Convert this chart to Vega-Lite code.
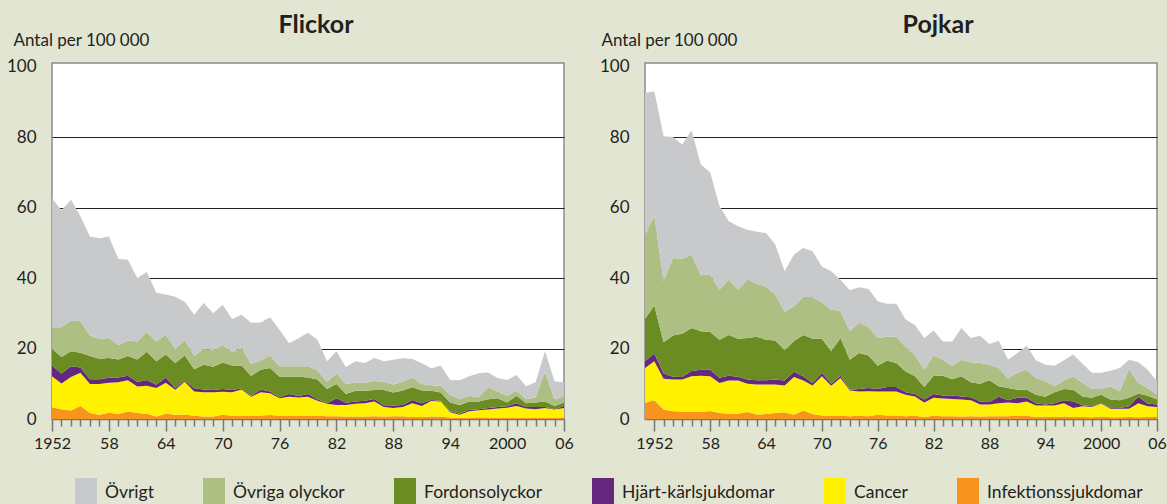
{
  "$schema": "https://vega.github.io/schema/vega-lite/v6.json",
  "padding": {"left": 5, "top": 12, "right": 0, "bottom": 0},
  "background": "#e1e5d2",
  "bounds": "flush",
  "spacing": 81,
  "datasets": {
    "flickor": [
      {"ar":1952,"Infektionssjukdomar":3.3,"Cancer":8.8,"Hjärt-kärlsjukdomar":3.1,"Fordonsolyckor":4.7,"Övriga olyckor":6.1,"Övrigt":36.6},
      {"ar":1953,"Infektionssjukdomar":2.8,"Cancer":7.3,"Hjärt-kärlsjukdomar":2.8,"Fordonsolyckor":4.7,"Övriga olyckor":8.4,"Övrigt":33.2},
      {"ar":1954,"Infektionssjukdomar":2.4,"Cancer":9.5,"Hjärt-kärlsjukdomar":3.1,"Fordonsolyckor":4.2,"Övriga olyckor":8.7,"Övrigt":34.3},
      {"ar":1955,"Infektionssjukdomar":3.7,"Cancer":9.4,"Hjärt-kärlsjukdomar":1.5,"Fordonsolyckor":4.2,"Övriga olyckor":8.9,"Övrigt":29.8},
      {"ar":1956,"Infektionssjukdomar":1.7,"Cancer":8.2,"Hjärt-kärlsjukdomar":1.4,"Fordonsolyckor":6.6,"Övriga olyckor":5.8,"Övrigt":28.1},
      {"ar":1957,"Infektionssjukdomar":1.2,"Cancer":8.7,"Hjärt-kärlsjukdomar":1.4,"Fordonsolyckor":5.8,"Övriga olyckor":5.6,"Övrigt":28.6},
      {"ar":1958,"Infektionssjukdomar":1.8,"Cancer":8.5,"Hjärt-kärlsjukdomar":1.4,"Fordonsolyckor":5.6,"Övriga olyckor":5.7,"Övrigt":28.8},
      {"ar":1959,"Infektionssjukdomar":1.4,"Cancer":9.0,"Hjärt-kärlsjukdomar":1.4,"Fordonsolyckor":5.1,"Övriga olyckor":4.0,"Övrigt":24.5},
      {"ar":1960,"Infektionssjukdomar":2.1,"Cancer":8.9,"Hjärt-kärlsjukdomar":1.3,"Fordonsolyckor":5.6,"Övriga olyckor":4.4,"Övrigt":22.9},
      {"ar":1961,"Infektionssjukdomar":1.7,"Cancer":7.5,"Hjärt-kärlsjukdomar":1.3,"Fordonsolyckor":6.4,"Övriga olyckor":5.1,"Övrigt":18.0},
      {"ar":1962,"Infektionssjukdomar":1.5,"Cancer":7.9,"Hjärt-kärlsjukdomar":1.7,"Fordonsolyckor":8.0,"Övriga olyckor":5.6,"Övrigt":17.0},
      {"ar":1963,"Infektionssjukdomar":0.7,"Cancer":8.1,"Hjärt-kärlsjukdomar":0.9,"Fordonsolyckor":6.7,"Övriga olyckor":5.6,"Övrigt":13.8},
      {"ar":1964,"Infektionssjukdomar":1.5,"Cancer":8.8,"Hjärt-kärlsjukdomar":1.5,"Fordonsolyckor":6.5,"Övriga olyckor":5.6,"Övrigt":11.4},
      {"ar":1965,"Infektionssjukdomar":1.2,"Cancer":7.1,"Hjärt-kärlsjukdomar":0.5,"Fordonsolyckor":7.1,"Övriga olyckor":4.0,"Övrigt":14.8},
      {"ar":1966,"Infektionssjukdomar":1.3,"Cancer":9.3,"Hjärt-kärlsjukdomar":0.3,"Fordonsolyckor":7.1,"Övriga olyckor":4.4,"Övrigt":10.9},
      {"ar":1967,"Infektionssjukdomar":0.9,"Cancer":6.9,"Hjärt-kärlsjukdomar":0.9,"Fordonsolyckor":5.4,"Övriga olyckor":3.8,"Övrigt":11.7},
      {"ar":1968,"Infektionssjukdomar":0.7,"Cancer":6.9,"Hjärt-kärlsjukdomar":0.8,"Fordonsolyckor":7.0,"Övriga olyckor":4.5,"Övrigt":13.0},
      {"ar":1969,"Infektionssjukdomar":0.7,"Cancer":6.9,"Hjärt-kärlsjukdomar":0.6,"Fordonsolyckor":6.6,"Övriga olyckor":4.7,"Övrigt":10.5},
      {"ar":1970,"Infektionssjukdomar":1.2,"Cancer":6.5,"Hjärt-kärlsjukdomar":0.8,"Fordonsolyckor":7.5,"Övriga olyckor":5.0,"Övrigt":11.4},
      {"ar":1971,"Infektionssjukdomar":0.9,"Cancer":6.7,"Hjärt-kärlsjukdomar":0.6,"Fordonsolyckor":7.0,"Övriga olyckor":3.8,"Övrigt":9.4},
      {"ar":1972,"Infektionssjukdomar":1.0,"Cancer":7.4,"Hjärt-kärlsjukdomar":0.3,"Fordonsolyckor":6.5,"Övriga olyckor":5.0,"Övrigt":9.4},
      {"ar":1973,"Infektionssjukdomar":0.9,"Cancer":5.4,"Hjärt-kärlsjukdomar":0.2,"Fordonsolyckor":5.7,"Övriga olyckor":3.5,"Övrigt":11.6},
      {"ar":1974,"Infektionssjukdomar":1.0,"Cancer":6.6,"Hjärt-kärlsjukdomar":0.8,"Fordonsolyckor":5.6,"Övriga olyckor":2.6,"Övrigt":10.8},
      {"ar":1975,"Infektionssjukdomar":1.1,"Cancer":6.2,"Hjärt-kärlsjukdomar":0.5,"Fordonsolyckor":6.7,"Övriga olyckor":3.5,"Övrigt":10.9},
      {"ar":1976,"Infektionssjukdomar":0.9,"Cancer":5.0,"Hjärt-kärlsjukdomar":0.3,"Fordonsolyckor":5.8,"Övriga olyckor":3.0,"Övrigt":10.3},
      {"ar":1977,"Infektionssjukdomar":0.9,"Cancer":5.4,"Hjärt-kärlsjukdomar":0.8,"Fordonsolyckor":4.9,"Övriga olyckor":3.0,"Övrigt":6.5},
      {"ar":1978,"Infektionssjukdomar":1.0,"Cancer":5.1,"Hjärt-kärlsjukdomar":0.4,"Fordonsolyckor":5.5,"Övriga olyckor":3.0,"Övrigt":7.9},
      {"ar":1979,"Infektionssjukdomar":0.9,"Cancer":5.4,"Hjärt-kärlsjukdomar":0.8,"Fordonsolyckor":4.7,"Övriga olyckor":3.2,"Övrigt":9.5},
      {"ar":1980,"Infektionssjukdomar":1.0,"Cancer":4.2,"Hjärt-kärlsjukdomar":0.4,"Fordonsolyckor":5.6,"Övriga olyckor":2.6,"Övrigt":8.7},
      {"ar":1981,"Infektionssjukdomar":0.8,"Cancer":3.5,"Hjärt-kärlsjukdomar":0.2,"Fordonsolyckor":4.0,"Övriga olyckor":2.1,"Övrigt":5.8},
      {"ar":1982,"Infektionssjukdomar":0.8,"Cancer":3.2,"Hjärt-kärlsjukdomar":1.9,"Fordonsolyckor":4.0,"Övriga olyckor":3.0,"Övrigt":6.3},
      {"ar":1983,"Infektionssjukdomar":0.7,"Cancer":3.3,"Hjärt-kärlsjukdomar":0.6,"Fordonsolyckor":2.5,"Övriga olyckor":2.8,"Övrigt":4.8},
      {"ar":1984,"Infektionssjukdomar":0.7,"Cancer":3.6,"Hjärt-kärlsjukdomar":0.7,"Fordonsolyckor":3.0,"Övriga olyckor":2.3,"Övrigt":6.1},
      {"ar":1985,"Infektionssjukdomar":0.7,"Cancer":3.8,"Hjärt-kärlsjukdomar":0.7,"Fordonsolyckor":2.8,"Övriga olyckor":2.3,"Övrigt":5.6},
      {"ar":1986,"Infektionssjukdomar":0.8,"Cancer":4.2,"Hjärt-kärlsjukdomar":0.7,"Fordonsolyckor":2.5,"Övriga olyckor":2.6,"Övrigt":6.5},
      {"ar":1987,"Infektionssjukdomar":0.7,"Cancer":2.7,"Hjärt-kärlsjukdomar":0.5,"Fordonsolyckor":4.3,"Övriga olyckor":2.4,"Övrigt":5.8},
      {"ar":1988,"Infektionssjukdomar":0.8,"Cancer":2.3,"Hjärt-kärlsjukdomar":0.7,"Fordonsolyckor":3.7,"Övriga olyckor":2.3,"Övrigt":7.0},
      {"ar":1989,"Infektionssjukdomar":0.8,"Cancer":2.6,"Hjärt-kärlsjukdomar":0.6,"Fordonsolyckor":4.1,"Övriga olyckor":2.5,"Övrigt":6.6},
      {"ar":1990,"Infektionssjukdomar":0.6,"Cancer":3.9,"Hjärt-kärlsjukdomar":0.9,"Fordonsolyckor":3.6,"Övriga olyckor":2.8,"Övrigt":5.2},
      {"ar":1991,"Infektionssjukdomar":0.6,"Cancer":3.1,"Hjärt-kärlsjukdomar":0.8,"Fordonsolyckor":3.6,"Övriga olyckor":1.8,"Övrigt":5.9},
      {"ar":1992,"Infektionssjukdomar":0.7,"Cancer":4.4,"Hjärt-kärlsjukdomar":0.3,"Fordonsolyckor":2.6,"Övriga olyckor":1.6,"Övrigt":4.8},
      {"ar":1993,"Infektionssjukdomar":0.7,"Cancer":4.3,"Hjärt-kärlsjukdomar":0.2,"Fordonsolyckor":2.3,"Övriga olyckor":1.9,"Övrigt":5.7},
      {"ar":1994,"Infektionssjukdomar":0.4,"Cancer":1.5,"Hjärt-kärlsjukdomar":0.3,"Fordonsolyckor":2.5,"Övriga olyckor":2.1,"Övrigt":4.3},
      {"ar":1995,"Infektionssjukdomar":0.3,"Cancer":0.9,"Hjärt-kärlsjukdomar":0.3,"Fordonsolyckor":2.5,"Övriga olyckor":1.6,"Övrigt":5.4},
      {"ar":1996,"Infektionssjukdomar":0.4,"Cancer":1.8,"Hjärt-kärlsjukdomar":0.4,"Fordonsolyckor":2.4,"Övriga olyckor":1.6,"Övrigt":5.5},
      {"ar":1997,"Infektionssjukdomar":0.5,"Cancer":2.0,"Hjärt-kärlsjukdomar":0.3,"Fordonsolyckor":2.2,"Övriga olyckor":1.2,"Övrigt":6.8},
      {"ar":1998,"Infektionssjukdomar":0.4,"Cancer":2.3,"Hjärt-kärlsjukdomar":0.4,"Fordonsolyckor":2.5,"Övriga olyckor":3.4,"Övrigt":4.2},
      {"ar":1999,"Infektionssjukdomar":0.4,"Cancer":2.6,"Hjärt-kärlsjukdomar":0.4,"Fordonsolyckor":2.5,"Övriga olyckor":1.9,"Övrigt":3.8},
      {"ar":2000,"Infektionssjukdomar":0.4,"Cancer":2.8,"Hjärt-kärlsjukdomar":0.4,"Fordonsolyckor":1.1,"Övriga olyckor":1.9,"Övrigt":4.5},
      {"ar":2001,"Infektionssjukdomar":0.4,"Cancer":3.3,"Hjärt-kärlsjukdomar":0.8,"Fordonsolyckor":2.1,"Övriga olyckor":1.5,"Övrigt":4.4},
      {"ar":2002,"Infektionssjukdomar":0.4,"Cancer":2.6,"Hjärt-kärlsjukdomar":0.4,"Fordonsolyckor":1.1,"Övriga olyckor":1.1,"Övrigt":3.7},
      {"ar":2003,"Infektionssjukdomar":0.4,"Cancer":2.4,"Hjärt-kärlsjukdomar":0.6,"Fordonsolyckor":1.3,"Övriga olyckor":1.5,"Övrigt":4.2},
      {"ar":2004,"Infektionssjukdomar":0.4,"Cancer":2.7,"Hjärt-kärlsjukdomar":0.3,"Fordonsolyckor":1.6,"Övriga olyckor":8.4,"Övrigt":5.8},
      {"ar":2005,"Infektionssjukdomar":0.4,"Cancer":2.3,"Hjärt-kärlsjukdomar":0.1,"Fordonsolyckor":0.9,"Övriga olyckor":1.9,"Övrigt":5.1},
      {"ar":2006,"Infektionssjukdomar":0.4,"Cancer":2.7,"Hjärt-kärlsjukdomar":0.6,"Fordonsolyckor":1.0,"Övriga olyckor":1.7,"Övrigt":4.0}
    ],
    "pojkar": [
      {"ar":1951,"Infektionssjukdomar":4.6,"Cancer":9.9,"Hjärt-kärlsjukdomar":1.9,"Fordonsolyckor":12.0,"Övriga olyckor":23.9,"Övrigt":40.2},
      {"ar":1952,"Infektionssjukdomar":5.3,"Cancer":11.1,"Hjärt-kärlsjukdomar":2.2,"Fordonsolyckor":13.6,"Övriga olyckor":25.5,"Övrigt":35.3},
      {"ar":1953,"Infektionssjukdomar":2.7,"Cancer":8.7,"Hjärt-kärlsjukdomar":1.5,"Fordonsolyckor":8.9,"Övriga olyckor":17.3,"Övrigt":41.1},
      {"ar":1954,"Infektionssjukdomar":2.2,"Cancer":9.0,"Hjärt-kärlsjukdomar":0.8,"Fordonsolyckor":11.7,"Övriga olyckor":22.0,"Övrigt":34.3},
      {"ar":1955,"Infektionssjukdomar":2.1,"Cancer":9.1,"Hjärt-kärlsjukdomar":0.7,"Fordonsolyckor":12.3,"Övriga olyckor":21.2,"Övrigt":32.5},
      {"ar":1956,"Infektionssjukdomar":2.0,"Cancer":10.1,"Hjärt-kärlsjukdomar":1.5,"Fordonsolyckor":12.2,"Övriga olyckor":20.9,"Övrigt":35.2},
      {"ar":1957,"Infektionssjukdomar":2.0,"Cancer":10.3,"Hjärt-kärlsjukdomar":1.7,"Fordonsolyckor":10.9,"Övriga olyckor":15.9,"Övrigt":31.4},
      {"ar":1958,"Infektionssjukdomar":2.3,"Cancer":9.8,"Hjärt-kärlsjukdomar":1.9,"Fordonsolyckor":10.7,"Övriga olyckor":16.3,"Övrigt":29.0},
      {"ar":1959,"Infektionssjukdomar":1.7,"Cancer":8.5,"Hjärt-kärlsjukdomar":1.5,"Fordonsolyckor":10.8,"Övriga olyckor":14.2,"Övrigt":23.7},
      {"ar":1960,"Infektionssjukdomar":1.5,"Cancer":9.4,"Hjärt-kärlsjukdomar":1.4,"Fordonsolyckor":11.5,"Övriga olyckor":15.8,"Övrigt":16.5},
      {"ar":1961,"Infektionssjukdomar":1.5,"Cancer":9.4,"Hjärt-kärlsjukdomar":1.1,"Fordonsolyckor":10.8,"Övriga olyckor":13.9,"Övrigt":18.0},
      {"ar":1962,"Infektionssjukdomar":2.0,"Cancer":8.0,"Hjärt-kärlsjukdomar":1.2,"Fordonsolyckor":11.8,"Övriga olyckor":16.6,"Övrigt":14.1},
      {"ar":1963,"Infektionssjukdomar":1.3,"Cancer":8.5,"Hjärt-kärlsjukdomar":1.2,"Fordonsolyckor":12.3,"Övriga olyckor":15.1,"Övrigt":14.7},
      {"ar":1964,"Infektionssjukdomar":1.4,"Cancer":8.4,"Hjärt-kärlsjukdomar":1.2,"Fordonsolyckor":11.5,"Övriga olyckor":15.0,"Övrigt":15.3},
      {"ar":1965,"Infektionssjukdomar":1.7,"Cancer":8.1,"Hjärt-kärlsjukdomar":1.4,"Fordonsolyckor":11.1,"Övriga olyckor":13.0,"Övrigt":14.2},
      {"ar":1966,"Infektionssjukdomar":1.9,"Cancer":7.6,"Hjärt-kärlsjukdomar":1.4,"Fordonsolyckor":8.6,"Övriga olyckor":10.9,"Övrigt":11.5},
      {"ar":1967,"Infektionssjukdomar":1.2,"Cancer":10.7,"Hjärt-kärlsjukdomar":1.5,"Fordonsolyckor":8.7,"Övriga olyckor":9.9,"Övrigt":14.7},
      {"ar":1968,"Infektionssjukdomar":2.4,"Cancer":8.5,"Hjärt-kärlsjukdomar":1.2,"Fordonsolyckor":11.7,"Övriga olyckor":10.8,"Övrigt":13.9},
      {"ar":1969,"Infektionssjukdomar":1.4,"Cancer":8.1,"Hjärt-kärlsjukdomar":0.7,"Fordonsolyckor":12.6,"Övriga olyckor":11.8,"Övrigt":13.0},
      {"ar":1970,"Infektionssjukdomar":1.0,"Cancer":11.1,"Hjärt-kärlsjukdomar":1.0,"Fordonsolyckor":9.7,"Övriga olyckor":10.3,"Övrigt":10.2},
      {"ar":1971,"Infektionssjukdomar":0.9,"Cancer":8.5,"Hjärt-kärlsjukdomar":0.6,"Fordonsolyckor":9.2,"Övriga olyckor":11.8,"Övrigt":10.9},
      {"ar":1972,"Infektionssjukdomar":0.9,"Cancer":10.7,"Hjärt-kärlsjukdomar":0.7,"Fordonsolyckor":10.7,"Övriga olyckor":7.7,"Övrigt":8.8},
      {"ar":1973,"Infektionssjukdomar":0.8,"Cancer":7.3,"Hjärt-kärlsjukdomar":0.2,"Fordonsolyckor":8.5,"Övriga olyckor":8.1,"Övrigt":11.6},
      {"ar":1974,"Infektionssjukdomar":0.9,"Cancer":6.9,"Hjärt-kärlsjukdomar":0.7,"Fordonsolyckor":10.2,"Övriga olyckor":8.7,"Övrigt":10.0},
      {"ar":1975,"Infektionssjukdomar":0.8,"Cancer":7.1,"Hjärt-kärlsjukdomar":0.9,"Fordonsolyckor":9.2,"Övriga olyckor":8.1,"Övrigt":10.8},
      {"ar":1976,"Infektionssjukdomar":1.2,"Cancer":6.6,"Hjärt-kärlsjukdomar":0.7,"Fordonsolyckor":6.6,"Övriga olyckor":7.9,"Övrigt":10.4},
      {"ar":1977,"Infektionssjukdomar":1.0,"Cancer":6.8,"Hjärt-kärlsjukdomar":1.3,"Fordonsolyckor":7.5,"Övriga olyckor":6.7,"Övrigt":9.4},
      {"ar":1978,"Infektionssjukdomar":1.0,"Cancer":6.8,"Hjärt-kärlsjukdomar":1.3,"Fordonsolyckor":6.8,"Övriga olyckor":7.5,"Övrigt":9.3},
      {"ar":1979,"Infektionssjukdomar":0.8,"Cancer":6.1,"Hjärt-kärlsjukdomar":0.7,"Fordonsolyckor":5.9,"Övriga olyckor":6.9,"Övrigt":7.8},
      {"ar":1980,"Infektionssjukdomar":0.9,"Cancer":5.5,"Hjärt-kärlsjukdomar":0.7,"Fordonsolyckor":5.0,"Övriga olyckor":6.0,"Övrigt":8.6},
      {"ar":1981,"Infektionssjukdomar":0.6,"Cancer":4.1,"Hjärt-kärlsjukdomar":0.8,"Fordonsolyckor":3.6,"Övriga olyckor":4.9,"Övrigt":9.0},
      {"ar":1982,"Infektionssjukdomar":0.9,"Cancer":5.1,"Hjärt-kärlsjukdomar":1.1,"Fordonsolyckor":5.2,"Övriga olyckor":5.7,"Övrigt":7.1},
      {"ar":1983,"Infektionssjukdomar":0.8,"Cancer":5.0,"Hjärt-kärlsjukdomar":0.9,"Fordonsolyckor":5.6,"Övriga olyckor":4.5,"Övrigt":5.2},
      {"ar":1984,"Infektionssjukdomar":0.8,"Cancer":4.9,"Hjärt-kärlsjukdomar":1.0,"Fordonsolyckor":4.6,"Övriga olyckor":3.8,"Övrigt":6.9},
      {"ar":1985,"Infektionssjukdomar":0.7,"Cancer":4.8,"Hjärt-kärlsjukdomar":0.9,"Fordonsolyckor":5.7,"Övriga olyckor":4.7,"Övrigt":9.0},
      {"ar":1986,"Infektionssjukdomar":0.8,"Cancer":4.5,"Hjärt-kärlsjukdomar":0.9,"Fordonsolyckor":4.2,"Övriga olyckor":5.7,"Övrigt":6.9},
      {"ar":1987,"Infektionssjukdomar":0.7,"Cancer":3.4,"Hjärt-kärlsjukdomar":0.9,"Fordonsolyckor":5.0,"Övriga olyckor":5.9,"Övrigt":7.7},
      {"ar":1988,"Infektionssjukdomar":0.8,"Cancer":3.3,"Hjärt-kärlsjukdomar":0.7,"Fordonsolyckor":6.2,"Övriga olyckor":4.4,"Övrigt":5.9},
      {"ar":1989,"Infektionssjukdomar":0.8,"Cancer":3.7,"Hjärt-kärlsjukdomar":1.8,"Fordonsolyckor":3.0,"Övriga olyckor":5.2,"Övrigt":7.7},
      {"ar":1990,"Infektionssjukdomar":0.8,"Cancer":3.9,"Hjärt-kärlsjukdomar":0.6,"Fordonsolyckor":3.5,"Övriga olyckor":2.6,"Övrigt":5.4},
      {"ar":1991,"Infektionssjukdomar":1.0,"Cancer":3.5,"Hjärt-kärlsjukdomar":1.5,"Fordonsolyckor":2.3,"Övriga olyckor":4.8,"Övrigt":5.6},
      {"ar":1992,"Infektionssjukdomar":0.9,"Cancer":4.1,"Hjärt-kärlsjukdomar":1.0,"Fordonsolyckor":2.3,"Övriga olyckor":5.7,"Övrigt":6.8},
      {"ar":1993,"Infektionssjukdomar":0.6,"Cancer":3.2,"Hjärt-kärlsjukdomar":0.7,"Fordonsolyckor":2.4,"Övriga olyckor":4.7,"Övrigt":5.1},
      {"ar":1994,"Infektionssjukdomar":0.7,"Cancer":3.1,"Hjärt-kärlsjukdomar":0.3,"Fordonsolyckor":2.2,"Övriga olyckor":4.4,"Övrigt":4.7},
      {"ar":1995,"Infektionssjukdomar":0.6,"Cancer":3.2,"Hjärt-kärlsjukdomar":0.7,"Fordonsolyckor":3.1,"Övriga olyckor":1.7,"Övrigt":5.8},
      {"ar":1996,"Infektionssjukdomar":0.7,"Cancer":3.8,"Hjärt-kärlsjukdomar":0.8,"Fordonsolyckor":3.2,"Övriga olyckor":2.5,"Övrigt":5.7},
      {"ar":1997,"Infektionssjukdomar":0.6,"Cancer":2.5,"Hjärt-kärlsjukdomar":1.9,"Fordonsolyckor":3.3,"Övriga olyckor":3.8,"Övrigt":6.2},
      {"ar":1998,"Infektionssjukdomar":0.6,"Cancer":3.0,"Hjärt-kärlsjukdomar":0.3,"Fordonsolyckor":2.5,"Övriga olyckor":3.8,"Övrigt":5.5},
      {"ar":1999,"Infektionssjukdomar":0.5,"Cancer":2.9,"Hjärt-kärlsjukdomar":0.2,"Fordonsolyckor":2.4,"Övriga olyckor":2.5,"Övrigt":4.6},
      {"ar":2000,"Infektionssjukdomar":0.7,"Cancer":3.7,"Hjärt-kärlsjukdomar":0.2,"Fordonsolyckor":2.3,"Övriga olyckor":1.6,"Övrigt":4.6},
      {"ar":2001,"Infektionssjukdomar":0.5,"Cancer":2.4,"Hjärt-kärlsjukdomar":0.2,"Fordonsolyckor":2.4,"Övriga olyckor":3.8,"Övrigt":4.4},
      {"ar":2002,"Infektionssjukdomar":0.5,"Cancer":2.4,"Hjärt-kärlsjukdomar":0.2,"Fordonsolyckor":2.2,"Övriga olyckor":2.6,"Övrigt":6.6},
      {"ar":2003,"Infektionssjukdomar":0.6,"Cancer":2.3,"Hjärt-kärlsjukdomar":0.7,"Fordonsolyckor":2.4,"Övriga olyckor":8.2,"Övrigt":2.6},
      {"ar":2004,"Infektionssjukdomar":0.5,"Cancer":4.0,"Hjärt-kärlsjukdomar":1.8,"Fordonsolyckor":0.9,"Övriga olyckor":3.0,"Övrigt":5.9},
      {"ar":2005,"Infektionssjukdomar":0.6,"Cancer":3.0,"Hjärt-kärlsjukdomar":0.8,"Fordonsolyckor":2.2,"Övriga olyckor":2.2,"Övrigt":5.2},
      {"ar":2006,"Infektionssjukdomar":0.6,"Cancer":2.8,"Hjärt-kärlsjukdomar":0.7,"Fordonsolyckor":1.4,"Övriga olyckor":1.4,"Övrigt":3.8}
    ]
  },
  "hconcat": [
    {
      "data": {"name": "flickor"},
      "width": 512,
      "height": 356,
      "title": {"text": "Flickor", "dx": 8, "offset": -7},
      "transform": [
        {"fold": ["Infektionssjukdomar","Cancer","Hjärt-kärlsjukdomar","Fordonsolyckor","Övriga olyckor","Övrigt"], "as": ["orsak","varde"]},
        {"calculate": "indexof(['Infektionssjukdomar','Cancer','Hjärt-kärlsjukdomar','Fordonsolyckor','Övriga olyckor','Övrigt'], datum.orsak)", "as": "rang"}
      ],
      "mark": {"type": "area", "interpolate": "linear"},
      "encoding": {
        "x": {"field": "ar", "type": "quantitative",
          "scale": {"domain": [1952, 2006], "nice": false, "zero": false},
          "axis": {"title": null, "grid": false, "labelOverlap": false, "labelFlush": false,
            "values": [1952,1953,1954,1955,1956,1957,1958,1959,1960,1961,1962,1963,1964,1965,1966,1967,1968,1969,1970,1971,1972,1973,1974,1975,1976,1977,1978,1979,1980,1981,1982,1983,1984,1985,1986,1987,1988,1989,1990,1991,1992,1993,1994,1995,1996,1997,1998,1999,2000,2001,2002,2003,2004,2005,2006],
            "labelExpr": "(datum.value - 1952) % 6 == 0 ? ((datum.value == 1952 || datum.value == 2000) ? '' + datum.value : substring('' + datum.value, 2)) : ''",
            "tickSize": {"condition": {"test": "(datum.value - 1952) % 6 == 0", "value": 12}, "value": 7}
          }},
        "y": {"field": "varde", "type": "quantitative", "stack": "zero",
          "scale": {"domain": [0, 101], "nice": false},
          "axis": {"values": [0,20,40,60,80,100], "title": "Antal per 100 000", "titleX": -39, "titleY": -18}},
        "color": {"field": "orsak", "type": "nominal",
          "scale": {"domain": ["Övrigt","Övriga olyckor","Fordonsolyckor","Hjärt-kärlsjukdomar","Cancer","Infektionssjukdomar"],
                    "range": ["#c8c9cb","#aebf84","#6b8c23","#64297f","#fff100","#f7941d"]},
          "legend": {"orient": "none", "legendX": 19, "legendY": 415, "direction": "horizontal", "columns": 6, "title": null,
            "symbolType": "M-0.733,-1H0.733V1H-0.733Z", "symbolSize": 900, "symbolStrokeWidth": 0, "symbolOpacity": 1,
            "labelFontSize": 17.5, "labelOffset": 4, "columnPadding": 45, "labelColor": "#231f20", "labelFont": "Lato"}},
        "order": {"field": "rang", "type": "quantitative", "sort": "ascending"}
      }
    },
    {
      "data": {"name": "pojkar"},
      "width": 512,
      "height": 356,
      "title": {"text": "Pojkar", "dx": 37, "offset": -7},
      "transform": [
        {"fold": ["Infektionssjukdomar","Cancer","Hjärt-kärlsjukdomar","Fordonsolyckor","Övriga olyckor","Övrigt"], "as": ["orsak","varde"]},
        {"calculate": "indexof(['Infektionssjukdomar','Cancer','Hjärt-kärlsjukdomar','Fordonsolyckor','Övriga olyckor','Övrigt'], datum.orsak)", "as": "rang"}
      ],
      "mark": {"type": "area", "interpolate": "linear"},
      "encoding": {
        "x": {"field": "ar", "type": "quantitative",
          "scale": {"domain": [1951, 2006], "nice": false, "zero": false},
          "axis": {"title": null, "grid": false, "labelOverlap": false, "labelFlush": false,
            "values": [1952,1953,1954,1955,1956,1957,1958,1959,1960,1961,1962,1963,1964,1965,1966,1967,1968,1969,1970,1971,1972,1973,1974,1975,1976,1977,1978,1979,1980,1981,1982,1983,1984,1985,1986,1987,1988,1989,1990,1991,1992,1993,1994,1995,1996,1997,1998,1999,2000,2001,2002,2003,2004,2005,2006],
            "labelExpr": "(datum.value - 1952) % 6 == 0 ? ((datum.value == 1952 || datum.value == 2000) ? '' + datum.value : substring('' + datum.value, 2)) : ''",
            "tickSize": {"condition": {"test": "(datum.value - 1952) % 6 == 0", "value": 12}, "value": 7}
          }},
        "y": {"field": "varde", "type": "quantitative", "stack": "zero",
          "scale": {"domain": [0, 101], "nice": false},
          "axis": {"values": [0,20,40,60,80,100], "title": "Antal per 100 000", "titleX": -44, "titleY": -18}},
        "color": {"field": "orsak", "type": "nominal",
          "scale": {"domain": ["Övrigt","Övriga olyckor","Fordonsolyckor","Hjärt-kärlsjukdomar","Cancer","Infektionssjukdomar"],
                    "range": ["#c8c9cb","#aebf84","#6b8c23","#64297f","#fff100","#f7941d"]},
          "legend": {"orient": "none", "legendX": 19, "legendY": 415, "direction": "horizontal", "columns": 6, "title": null,
            "symbolType": "M-0.733,-1H0.733V1H-0.733Z", "symbolSize": 900, "symbolStrokeWidth": 0, "symbolOpacity": 1,
            "labelFontSize": 17.5, "labelOffset": 4, "columnPadding": 45, "labelColor": "#231f20", "labelFont": "Lato"}},
        "order": {"field": "rang", "type": "quantitative", "sort": "ascending"}
      }
    }
  ],
  "resolve": {"scale": {"x": "independent", "y": "independent", "color": "shared"}, "legend": {"color": "shared"}},
  "config": {
    "font": "Lato",
    "view": {"fill": "white", "stroke": "#8c8c8c", "strokeWidth": 1.5},
    "title": {"fontSize": 25, "fontWeight": "bold", "color": "#231f20", "anchor": "middle", "font": "Lato"},
    "axisX": {"domainColor": "#777777", "domainWidth": 1.5, "tickColor": "#777777", "tickWidth": 1.5,
      "labelFontSize": 16, "labelColor": "#231f20", "labelFont": "Lato", "labelPadding": 4},
    "axisY": {"domain": false, "ticks": false, "tickSize": 0, "labelPadding": 16, "labelFontSize": 17,
      "labelColor": "#231f20", "labelFont": "Lato",
      "grid": true, "gridColor": "#222222", "gridWidth": 1.2,
      "gridOpacity": {"condition": {"test": "datum.value == 0 || datum.value == 100", "value": 0}, "value": 1},
      "titleAngle": 0, "titleAlign": "left", "titleBaseline": "alphabetic", "titleFontWeight": "normal",
      "titleFontSize": 17, "titleColor": "#231f20", "titleFont": "Lato"}
  }
}
